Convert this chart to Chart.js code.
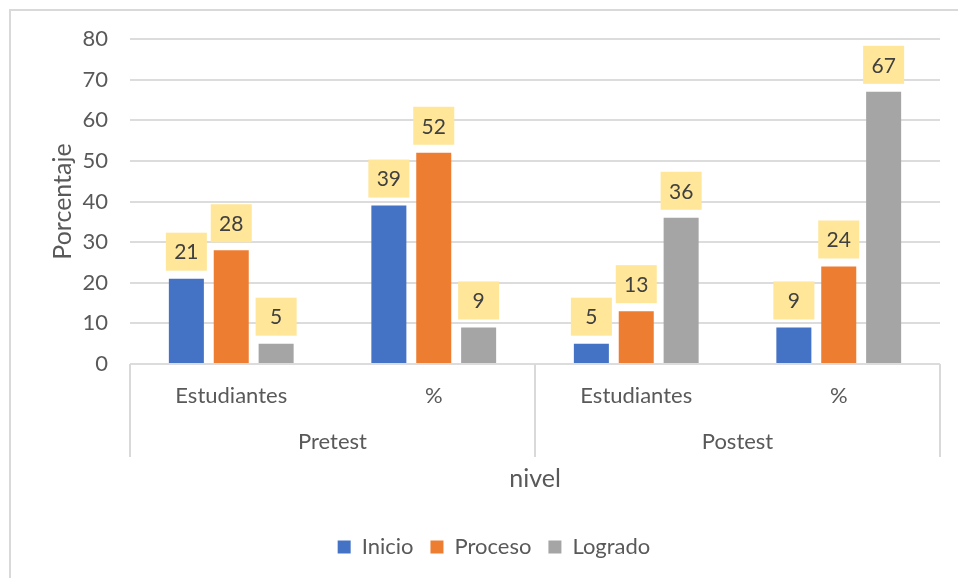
<!DOCTYPE html>
<html><head><meta charset="utf-8">
<script src="https://cdn.jsdelivr.net/npm/chart.js@4.4.1/dist/chart.umd.min.js"></script>
<style>html,body{margin:0;padding:0;background:#fff}#wrap{width:958px;height:578px;position:relative}</style>
</head><body><div id="wrap"><canvas id="c"></canvas></div>
<script>
const categories = ['Estudiantes', '%', 'Estudiantes', '%'];
const groups = ['Pretest', 'Postest'];
const groupSpan = [2, 2];
const seriesNames = ['Inicio', 'Proceso', 'Logrado'];
const inicio = [21, 39, 5, 9];
const proceso = [28, 52, 13, 24];
const logrado = [5, 9, 36, 67];
const yMin = 0, yMax = 80, yStep = 10;
const colors = ['#4472C4', '#ED7D31', '#A5A5A5'];

const FONT = 'Lato, "Liberation Sans", sans-serif';
const TXT = '#595959';
const GRID = '#d9d9d9';

const borderPlugin = {
  id: 'outerBorder',
  beforeDraw(chart) {
    const ctx = chart.ctx;
    ctx.save();
    ctx.strokeStyle = GRID;
    ctx.lineWidth = 2;
    ctx.strokeRect(10, 10, 3000, 3000);
    ctx.restore();
  }
};

const groupPlugin = {
  id: 'groupAxis',
  afterDraw(chart) {
    const ctx = chart.ctx;
    const xs = chart.scales.x;
    const area = chart.chartArea;
    const w = (xs.right - xs.left) / categories.length;
    ctx.save();
    ctx.strokeStyle = GRID;
    ctx.lineWidth = 2;
    let idx = 0;
    const bounds = [xs.left];
    groupSpan.forEach(n => { idx += n; bounds.push(xs.left + idx * w); });
    bounds.forEach(b => {
      ctx.beginPath();
      ctx.moveTo(Math.round(b), area.bottom);
      ctx.lineTo(Math.round(b), area.bottom + 93);
      ctx.stroke();
    });
    ctx.fillStyle = TXT;
    ctx.font = '22px ' + FONT;
    ctx.textAlign = 'center';
    ctx.textBaseline = 'middle';
    groups.forEach((g, i) => {
      ctx.fillText(g, (bounds[i] + bounds[i + 1]) / 2, area.bottom + 78);
    });
    ctx.restore();
  }
};

const labelPlugin = {
  id: 'boxLabels',
  afterDatasetsDraw(chart) {
    const ctx = chart.ctx;
    ctx.save();
    ctx.font = '21px ' + FONT;
    ctx.textAlign = 'center';
    ctx.textBaseline = 'middle';
    chart.data.datasets.forEach((ds, di) => {
      const meta = chart.getDatasetMeta(di);
      meta.data.forEach((el, i) => {
        const bw = 41, bh = 38;
        const bx = el.x - bw / 2;
        const by = el.y - 8 - bh;
        ctx.fillStyle = '#FFE699';
        ctx.fillRect(bx, by, bw, bh);
        ctx.fillStyle = '#404040';
        ctx.fillText(String(ds.data[i]), el.x, by + bh / 2 + 1);
      });
    });
    ctx.restore();
  }
};

new Chart(document.getElementById('c'), {
  type: 'bar',
  data: {
    labels: categories,
    datasets: [
      { label: seriesNames[0], data: inicio, backgroundColor: colors[0] },
      { label: seriesNames[1], data: proceso, backgroundColor: colors[1] },
      { label: seriesNames[2], data: logrado, backgroundColor: colors[2] }
    ]
  },
  options: {
    responsive: true,
    maintainAspectRatio: false,
    animation: false,
    datasets: { bar: { barPercentage: 0.78, categoryPercentage: 0.665 } },
    layout: { padding: { top: 39, right: 18, bottom: 10, left: 48 } },
    plugins: {
      tooltip: { enabled: false },
      legend: {
        position: 'bottom',
        labels: { boxWidth: 13, boxHeight: 13, padding: 17, color: TXT, font: { family: FONT, size: 22 } }
      }
    },
    scales: {
      x: {
        offset: true,
        grid: { display: false, drawTicks: false },
        border: { display: false },
        ticks: { color: TXT, font: { family: FONT, size: 22 }, padding: 19, maxRotation: 0, autoSkip: false },
        title: { display: true, text: 'nivel', color: TXT, font: { family: FONT, size: 25 }, padding: { top: 0, bottom: 25 } },
        afterFit(s) { s.height = 155; }
      },
      y: {
        min: yMin, max: yMax,
        ticks: { stepSize: yStep, color: TXT, font: { family: FONT, size: 22 }, padding: 22 },
        grid: { color: '#dcdcdc', lineWidth: 2, drawTicks: false },
        border: { display: false },
        title: { display: true, text: 'Porcentaje', color: TXT, font: { family: FONT, size: 25 }, padding: { top: 0, bottom: 0 } },
        afterFit(s) { s.width = 82; }
      }
    }
  },
  plugins: [borderPlugin, groupPlugin, labelPlugin]
});
</script>
</body></html>
